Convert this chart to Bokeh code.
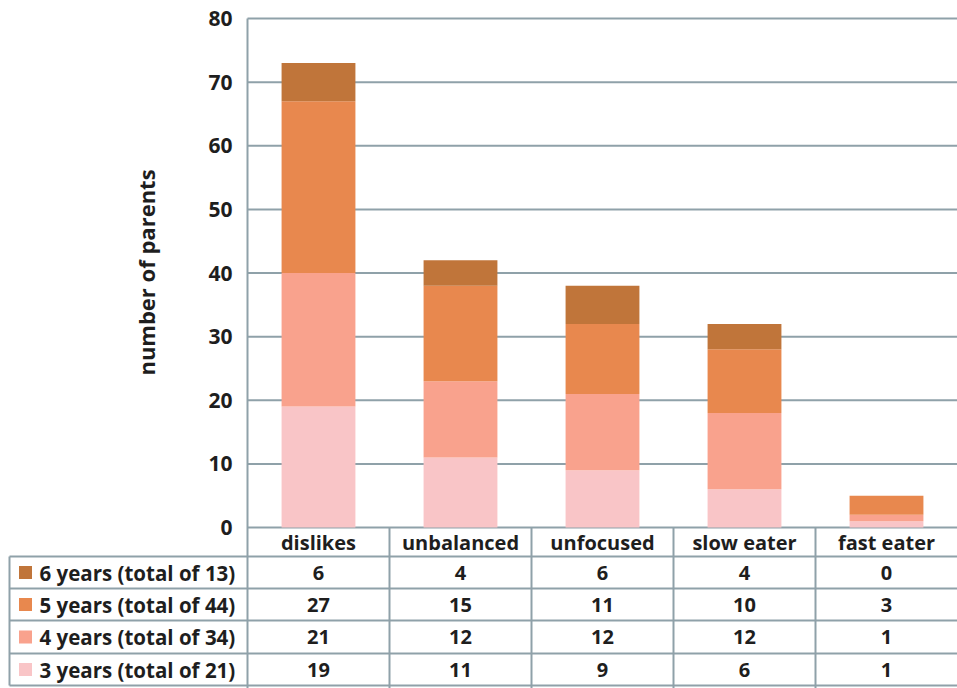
import math
from bokeh.plotting import figure
from bokeh.models import Range1d
from bokeh.core.properties import value
from bokeh.embed import file_html
from bokeh.resources import INLINE

# ---------------- data ----------------
categories = ["dislikes", "unbalanced", "unfocused", "slow eater", "fast eater"]
age3 = [19, 11, 9, 6, 1]
age4 = [21, 12, 12, 12, 1]
age5 = [27, 15, 11, 10, 3]
age6 = [6, 4, 6, 4, 0]
series_names = ["3 years", "4 years", "5 years", "6 years"]
series_totals = [21, 34, 44, 13]
y_ticks = [0, 10, 20, 30, 40, 50, 60, 70, 80]
y_label = "number of parents"

colors = ["#f9c5c7", "#f9a28d", "#e8884e", "#c0753a"]
LINE = "#8fa1a9"
TXT = "#1e1e1e"
FONT = value("Open Sans")

# ---------------- layout helpers ----------------
W, H = 957, 688
PLOT_LEFT, PLOT_TOP, PLOT_ZERO = 247, 18, 527
COL_W = (W - PLOT_LEFT) / len(categories)
YMAX = y_ticks[-1]
PPU = (PLOT_ZERO - PLOT_TOP) / YMAX


def px2x(px):
    return -0.5 + (px - PLOT_LEFT) / COL_W


def px2y(py):
    return (PLOT_ZERO - py) / PPU


p = figure(width=W, height=H, output_backend="svg", toolbar_location=None,
           x_range=Range1d(px2x(0), px2x(W)), y_range=Range1d(px2y(H), px2y(0)),
           min_border=0, outline_line_color=None)
p.axis.visible = False
p.grid.visible = False
p.background_fill_color = "white"
p.border_fill_color = "white"

xs = list(range(len(categories)))
x_left = px2x(PLOT_LEFT)
x_right = px2x(W)

# gridlines (from ticks)
p.segment(x0=[x_left] * len(y_ticks), x1=[x_right] * len(y_ticks),
          y0=y_ticks, y1=y_ticks, line_color=LINE, line_width=2)

# stacked bars
src = dict(x=xs, age3=age3, age4=age4, age5=age5, age6=age6)
p.vbar_stack(["age3", "age4", "age5", "age6"], x="x", width=0.52, source=src,
             color=colors, line_color=None)

# y tick labels
p.text(x=[px2x(PLOT_LEFT - 15)] * len(y_ticks), y=y_ticks,
       text=[str(t) for t in y_ticks], text_align="right", text_baseline="middle",
       text_font=FONT, text_font_style="bold", text_font_size="21px", text_color=TXT)

# y axis title
p.text(x=[px2x(145)], y=[px2y(272)], text=[y_label], angle=math.pi / 2,
       text_align="center", text_baseline="middle", text_font=FONT,
       text_font_style="bold", text_font_size="22px", text_color=TXT)

# ---------------- data table ----------------
header_bottom = 556
row_edges = [556, 588, 620, 653, 685]
TABLE_LEFT = 9

# horizontal table lines
p.segment(x0=[px2x(TABLE_LEFT)] * len(row_edges), x1=[x_right] * len(row_edges),
          y0=[px2y(r) for r in row_edges], y1=[px2y(r) for r in row_edges],
          line_color=LINE, line_width=2)
# vertical lines: table left border, plot left edge, column separators
p.segment(x0=[px2x(TABLE_LEFT)], x1=[px2x(TABLE_LEFT)],
          y0=[px2y(row_edges[0])], y1=[px2y(row_edges[-1])], line_color=LINE, line_width=2)
p.segment(x0=[x_left], x1=[x_left], y0=[px2y(PLOT_TOP)], y1=[px2y(H)],
          line_color=LINE, line_width=2)
seps = [i + 0.5 for i in xs[:-1]]
p.segment(x0=seps, x1=seps, y0=[0] * len(seps), y1=[px2y(H)] * len(seps),
          line_color=LINE, line_width=2)

# header: category names
p.text(x=xs, y=[px2y((PLOT_ZERO + header_bottom) / 2)] * len(xs), text=categories,
       text_align="center", text_baseline="middle", text_font=FONT,
       text_font_style="bold", text_font_size="20px", text_color=TXT)

# rows (6 years on top)
rows = [age6, age5, age4, age3]
row_colors = colors[::-1]
row_names = series_names[::-1]
row_totals = series_totals[::-1]
for j, vals in enumerate(rows):
    ymid = px2y((row_edges[j] + row_edges[j + 1]) / 2)
    p.text(x=xs, y=[ymid] * len(xs), text=[str(v) for v in vals],
           text_align="center", text_baseline="middle", text_font=FONT,
           text_font_style="bold", text_font_size="20px", text_color=TXT)
    p.scatter(x=[px2x(25)], y=[ymid], marker="square", size=13,
              color=row_colors[j], line_color=None)
    p.text(x=[px2x(39)], y=[ymid], text=[f"{row_names[j]} (total of {row_totals[j]})"],
           text_align="left", text_baseline="middle", text_font=FONT,
           text_font_style="bold", text_font_size="20.5px", text_color=TXT)

open("out.html", "w").write(file_html(p, INLINE))
